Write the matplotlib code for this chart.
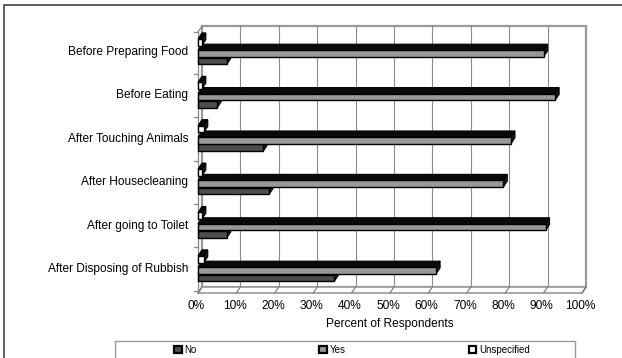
import matplotlib.pyplot as plt
from matplotlib.patches import Rectangle, Polygon, Patch

plt.rcParams['font.family'] = ['Liberation Sans', 'DejaVu Sans']

categories = ['Before Preparing Food', 'Before Eating', 'After Touching Animals',
              'After Housecleaning', 'After going to Toilet', 'After Disposing of Rubbish']
no_pct = [7.5, 5, 17, 18.5, 7.5, 35.5]
yes_pct = [90, 93, 81.5, 79.5, 90.5, 62]
unspecified_pct = [1, 1, 1.5, 1, 1, 1.5]
series_names = ['No', 'Yes', 'Unspecified']
series_colors = ['#4d4d4d', '#999999', '#ffffff']
xticks = list(range(0, 101, 10))

W, H = 622, 358
fig = plt.figure(figsize=(W / 100, H / 100), dpi=100)

# plot area in pixels (front plane)
left_px, right_px, top_px, bottom_px = 198, 582, 26, 293
ax = fig.add_axes([left_px / W, 1 - bottom_px / H,
                   (right_px - left_px) / W, (bottom_px - top_px) / H])
ax.set_axis_off()

n = len(categories)
ypos = list(range(n - 1, -1, -1))  # first category on top
ax.set_xlim(0, 100)
ax.set_ylim(-0.553, 5.6)

# 3D depth offsets in data units
dx = 4 / 3.84
dy = 6 / 43.4
y0, y1 = -0.553, 5.6 - dy

grid_col = '#8c8c8c'
# back wall
ax.add_patch(Rectangle((dx, y0 + dy), 100, y1 - y0, facecolor='white',
                       edgecolor='#9a9a9a', lw=1.6, clip_on=False, zorder=0))
for t in xticks[1:-1]:
    ax.plot([t + dx, t + dx], [y0 + dy, y1 + dy], color=grid_col, lw=0.8,
            clip_on=False, zorder=0.5)
# floor
ax.add_patch(Polygon([(0, y0), (100, y0), (100 + dx, y0 + dy), (dx, y0 + dy)],
                     closed=True, facecolor='white', edgecolor='#9a9a9a', lw=1.2,
                     clip_on=False, zorder=0.6))
for t in xticks:
    ax.plot([t, t + dx], [y0, y0 + dy], color='#777777', lw=0.8, clip_on=False, zorder=0.7)
# left side wall
ax.plot([0, 0], [y0, y1], color='#888888', lw=0.9, clip_on=False, zorder=0.7)
ax.plot([0, dx], [y1, y1 + dy], color='#888888', lw=0.9, clip_on=False, zorder=0.7)
bounds = [p + 0.5 for p in range(-1, n)]
for b in bounds:
    yb = min(max(b, y0), y1)
    ax.plot([-1.1, 0], [yb, yb], color='#888888', lw=0.9, clip_on=False, zorder=0.7)


def bar3d(v, c, h, face, z):
    lo, hi = c - h / 2, c + h / 2
    ax.add_patch(Polygon([(0, hi), (v, hi), (v + dx, hi + dy), (dx, hi + dy)], closed=True,
                         facecolor='#0a0a0a', edgecolor='black', lw=0.8, zorder=z, clip_on=False))
    ax.add_patch(Polygon([(v, lo), (v + dx, lo + dy), (v + dx, hi + dy), (v, hi)], closed=True,
                         facecolor='#1a1a1a', edgecolor='black', lw=0.8, zorder=z, clip_on=False))
    ax.add_patch(Rectangle((0, lo), v, h, facecolor=face, edgecolor='black', lw=1.0,
                           zorder=z + 0.1, clip_on=False))


bh = 0.155
offsets = [-0.205, -0.035, 0.225]
for i, yc in enumerate(ypos):
    vals = [no_pct[i], yes_pct[i], unspecified_pct[i]]
    for k in range(3):
        bar3d(vals[k], yc + offsets[k], bh, series_colors[k], 2 + k)

# category labels
for i, yc in enumerate(ypos):
    ax.text(-2.6, yc, categories[i], ha='right', va='center', fontsize=8.6, color='black')

# x tick labels and title
for t in xticks:
    ax.text(t - 0.5, y0 - 0.16, f'{t}%', ha='center', va='top', fontsize=8.6)
fig.text(390 / W, 1 - 324 / H, 'Percent of Respondents', ha='center', va='center', fontsize=8.6)

# outer chart frame and legend box
fig.patches.append(Rectangle((4 / W, -0.5), 2, 1 - 5 / H + 0.5, transform=fig.transFigure,
                             facecolor='none', edgecolor='#444444', lw=1.2))
fig.patches.append(Rectangle((115 / W, -0.2), 460 / W, 0.2 + 1 - 341 / H - 0.0,
                             transform=fig.transFigure, facecolor='none',
                             edgecolor='#999999', lw=1.0))
handles = [Patch(facecolor=c, edgecolor='black', lw=1.6) for c in series_colors]
fig.legend(handles, series_names, loc='center left', bbox_to_anchor=(174 / W, 1 - 350 / H),
           ncol=3, frameon=False, fontsize=7, handlelength=0.8, handleheight=0.8,
           handletextpad=0.3, columnspacing=12.6, borderpad=0, borderaxespad=0)

fig.savefig('out.png', dpi=100)
